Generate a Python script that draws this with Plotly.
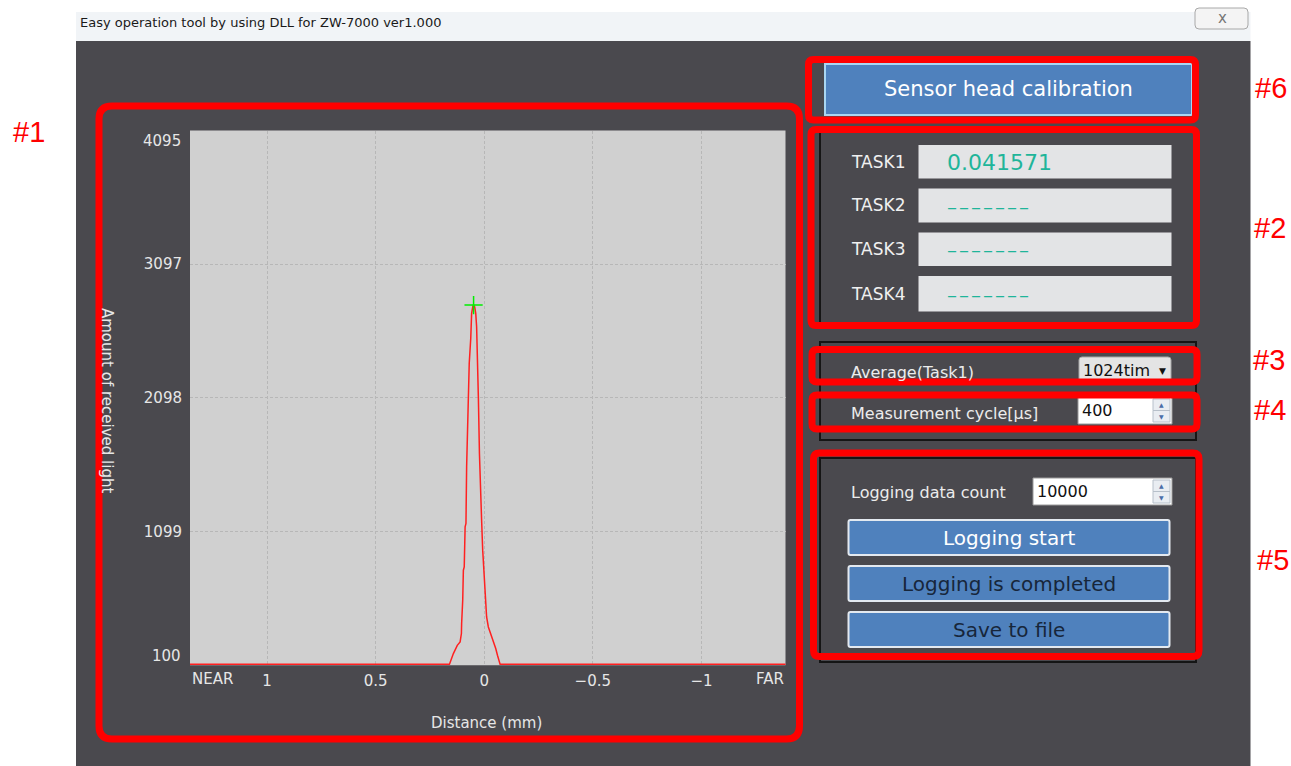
import plotly.graph_objects as go

W, H = 1291, 766
OFF = 0
FW, FH = W - OFF, H - OFF

# ---------------- data ----------------
distance_mm = [1.36, 0.160, 0.142, 0.124, 0.111, 0.105, 0.104, 0.099, 0.096, 0.092,
               0.088, 0.084, 0.081, 0.076, 0.073, 0.069, 0.062, 0.058, 0.052, 0.049,
               0.044, 0.039, 0.035, 0.030, 0.027, 0.022, 0.018, 0.012, 0.007, 0.001,
               -0.004, -0.011, -0.019, -0.027, -0.042, -0.053, -0.061, -0.073, -1.39]
received_light = [107, 107, 187, 249, 274, 337, 412, 586, 810, 835,
                  1134, 1159, 1582, 1881, 2131, 2355, 2542, 2729, 2783, 2791,
                  2778, 2729, 2629, 2380, 2105, 1682, 1408, 1184, 960, 760,
                  586, 461, 386, 349, 287, 225, 175, 107, 107]
peak_x = [0.049]
peak_y = [2791]

x_tickvals = [1, 0.5, 0, -0.5, -1]
x_ticktext = ["1", "0.5", "0", "\u22120.5", "\u22121"]
y_tickvals = [1099, 2098, 3097]
y_ticktext = ["1099", "2098", "3097"]
y_min, y_max = 100, 4095
x_left, x_right = 1.3545, -1.387

DASHES = "\u200a".join(["\u2013"] * 7)
task_names = ["TASK1", "TASK2", "TASK3", "TASK4"]
task_values = ["0.041571", DASHES, DASHES, DASHES]

# ---------------- styling ----------------
WIN = "#4a494e"
PLOTBG = "#d0d0d0"
LABEL = "#e6e6e6"
BLUE = "#4f81bd"
RED = "#ff0000"
TEAL = "#1fb59a"
FONT = "DejaVu Sans"
GRID = "#b7b7b7"

fig = go.Figure()
fig.add_trace(go.Scatter(x=distance_mm, y=received_light, mode="lines",
                         line=dict(color="#ff2020", width=1.5), hoverinfo="skip",
                         showlegend=False))
fig.add_trace(go.Scatter(x=peak_x, y=peak_y, mode="markers",
                         marker=dict(symbol="cross-thin", size=13,
                                     line=dict(color="#00ee00", width=1.5)),
                         showlegend=False))

shapes = []
annots = []


def PX(x):
    return (x - OFF) / FW


def PY(y):
    return 1 - (y - OFF) / FH


def rect(x0, y0, x1, y1, fill=None, line=None, lw=0):
    shapes.append(dict(type="rect", xref="paper", yref="paper",
                       x0=PX(x0), x1=PX(x1), y0=PY(y1), y1=PY(y0),
                       fillcolor=fill if fill else "rgba(0,0,0,0)",
                       line=dict(color=line if line else "rgba(0,0,0,0)", width=lw)))


def rrect(x0, y0, x1, y1, r, fill=None, line=None, lw=0):
    rx, ry = r / FW, r / FH
    a, b, c, d = PX(x0), PX(x1), PY(y0), PY(y1)  # c top, d bottom
    p = (f"M {a+rx},{c} L {b-rx},{c} Q {b},{c} {b},{c-ry} L {b},{d+ry} "
         f"Q {b},{d} {b-rx},{d} L {a+rx},{d} Q {a},{d} {a},{d+ry} "
         f"L {a},{c-ry} Q {a},{c} {a+rx},{c} Z")
    shapes.append(dict(type="path", xref="paper", yref="paper", path=p,
                       fillcolor=fill if fill else "rgba(0,0,0,0)",
                       line=dict(color=line if line else "rgba(0,0,0,0)", width=lw)))


def text(x, y, s, size, color, xanchor="left", family=FONT, angle=0):
    annots.append(dict(xref="paper", yref="paper", x=PX(x), y=PY(y), text=s,
                       showarrow=False, xanchor=xanchor, yanchor="middle",
                       textangle=angle, font=dict(size=size, color=color, family=family)))


# outside of window (white)
rect(-2, -2, W + 2, 41, fill="white")
rect(-2, -2, 76, H + 2, fill="white")
rect(1250.5, -2, W + 2, H + 2, fill="white")
rect(76, 12, 1250.5, 41, fill="#f1f4f7")
rrect(1195, 8, 1248, 29, 4, fill="#f4f4f4", line="#a8a8a8", lw=1)
text(1222, 18, "x", 15, "#777777", xanchor="center")
text(78, 23, "Easy operation tool by using DLL for ZW-7000 ver1.000", 13, "#1a1a1a")

# axis helper labels
annots.append(dict(xref="paper", yref="y", x=PX(183), y=y_max, yshift=-10, text="4095",
                   showarrow=False, xanchor="right", yanchor="middle",
                   font=dict(size=15, color=LABEL, family=FONT)))
annots.append(dict(xref="paper", yref="y", x=PX(183), y=y_min, yshift=9, text="100",
                   showarrow=False, xanchor="right", yanchor="middle",
                   font=dict(size=15, color=LABEL, family=FONT)))
annots.append(dict(xref="x domain", yref="paper", x=0, y=PY(679), text="NEAR",
                   showarrow=False, xanchor="left", yanchor="middle",
                   font=dict(size=15, color=LABEL, family=FONT)))
annots.append(dict(xref="x domain", yref="paper", x=1, y=PY(679), text="FAR",
                   showarrow=False, xanchor="right", yanchor="middle",
                   font=dict(size=15, color=LABEL, family=FONT)))
text(107, 400, "Amount of received light", 15, LABEL, xanchor="center", angle=90)
text(486.5, 723, "Distance (mm)", 15, LABEL, xanchor="center")

# ---- right panel ----
rect(825, 64, 1192, 115, fill=BLUE, line="#a9d6f2", lw=2)
text(1008, 89, "Sensor head calibration", 21, "white", xanchor="center")

rect(820, 131, 1196, 324, line="#151515", lw=2)
rect(820, 342, 1196, 440, line="#151515", lw=2)
rect(820, 458, 1196, 662, line="#151515", lw=2)

task_y = [162, 205.5, 249, 293.5]
box_rows = [(145, 178.5), (188.5, 222.5), (232.5, 266), (276, 311.5)]
for name, val, ty, (b0, b1) in zip(task_names, task_values, task_y, box_rows):
    text(849, ty, name, 17, "#f0f0f0")
    rect(918.5, b0, 1171.5, b1, fill="#e3e4e6")
    text(945, (b0 + b1) / 2 + 1, val, 22 if val[0] != "\u2013" else 20, TEAL)

text(849, 372, "Average(Task1)", 16, "#ececec")
rrect(1079, 357, 1171, 383, 3, fill="#e4e4e4", line="#a8a8a8", lw=1)
text(1081, 371, "1024tim", 16, "#111111")
text(1162, 371, "\u25bc", 9, "#111111", xanchor="center")

text(849, 413, "Measurement cycle[\u03bcs]", 16, "#ececec")
rect(1078, 397, 1172, 424, fill="white", line="#9a9a9a", lw=1)
text(1080, 411, "400", 16, "#111111")


def spin(x0, y0, x1, y1):
    ym = (y0 + y1) / 2
    rect(x0, y0, x1, ym, fill="#e9edf2", line="#b7c0ca", lw=1)
    rect(x0, ym, x1, y1, fill="#e9edf2", line="#b7c0ca", lw=1)
    text((x0 + x1) / 2, (y0 + ym) / 2, "\u25b2", 6, "#4a6ea8", xanchor="center")
    text((x0 + x1) / 2, (ym + y1) / 2, "\u25bc", 6, "#4a6ea8", xanchor="center")


spin(1153, 399, 1170, 422)

text(849, 492.5, "Logging data count", 16, "#ececec")
rect(1033, 478, 1172, 505, fill="white", line="#9a9a9a", lw=1)
text(1035, 491, "10000", 16, "#111111")
spin(1153, 480, 1170, 503)

buttons = [("Logging start", 520, 555, "white"),
           ("Logging is completed", 566, 601, "#17263a"),
           ("Save to file", 612, 647, "#17263a")]
for label, b0, b1, col in buttons:
    rrect(848.5, b0, 1169.5, b1, 2, fill=BLUE, line="#e3e9f0", lw=2)
    text(1009, (b0 + b1) / 2, label, 20, col, xanchor="center")

# ---- red annotation boxes ----
rrect(99, 106, 799.5, 739, 13, line=RED, lw=7)
rrect(808.5, 59.5, 1195.5, 120, 5, line=RED, lw=7)
rrect(811, 129.5, 1196.5, 325.5, 5, line=RED, lw=7)
rrect(812, 349.5, 1197, 382, 5, line=RED, lw=7)
rrect(812, 395, 1197, 429, 5, line=RED, lw=7)
rrect(813.5, 453, 1199, 656.5, 6, line=RED, lw=7)

for lab, cx, cy in [("#1", 28.5, 132), ("#6", 1270.5, 88), ("#2", 1269.5, 228),
                    ("#3", 1269, 360), ("#4", 1269.5, 410), ("#5", 1272.5, 560)]:
    text(cx, cy, lab, 29, RED, xanchor="center", family="Liberation Sans")

fig.update_layout(
    width=FW, height=FH, margin=dict(l=0, r=0, t=0, b=0),
    paper_bgcolor=WIN, plot_bgcolor=PLOTBG,
    shapes=shapes, annotations=annots, showlegend=False,
    xaxis=dict(domain=[PX(190), PX(785.5)], range=[x_left, x_right],
               tickvals=x_tickvals, ticktext=x_ticktext, showgrid=True,
               gridcolor=GRID, griddash="3px,2px", gridwidth=1, zeroline=False,
               showline=False, ticks="", ticklabelstandoff=5,
               tickfont=dict(size=15, color=LABEL, family=FONT), fixedrange=True),
    yaxis=dict(domain=[PY(665.25), PY(130.5)], range=[y_min, y_max],
               tickvals=y_tickvals, ticktext=y_ticktext, showgrid=True,
               gridcolor=GRID, griddash="3px,2px", gridwidth=1, zeroline=False,
               showline=False, ticks="", ticklabelstandoff=7,
               tickfont=dict(size=15, color=LABEL, family=FONT), fixedrange=True),
)

fig.write_html("out.html", config={"displayModeBar": False},
               post_script="document.body.style.margin='0px';document.body.style.overflow='hidden';")
